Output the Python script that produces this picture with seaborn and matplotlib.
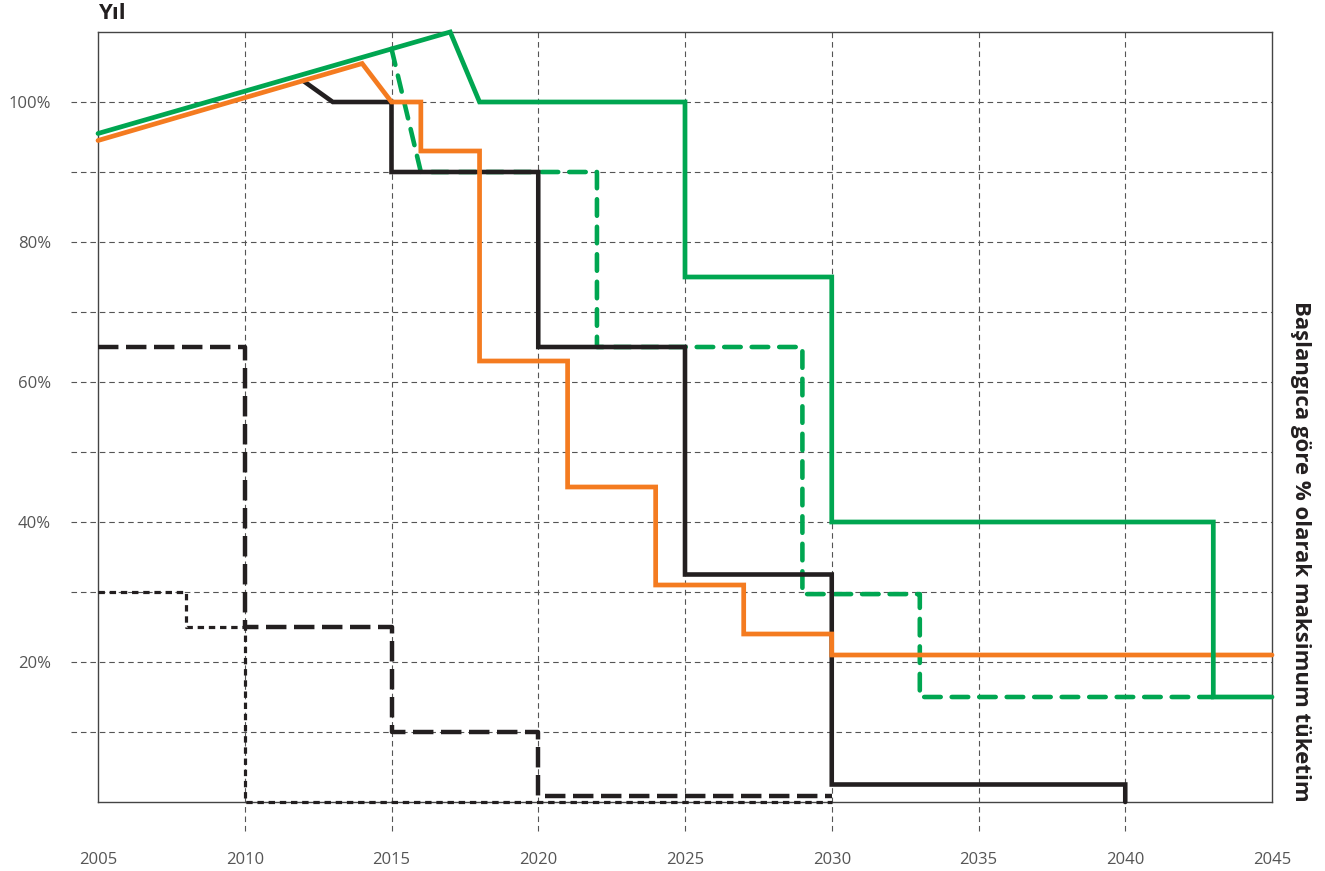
import numpy as np
import pandas as pd
import seaborn as sns
import matplotlib.pyplot as plt

# data (year, % of baseline)
green_x = [2005, 2017, 2018, 2025, 2025, 2030, 2030, 2043, 2043, 2045]
green_y = [95.5, 110, 100, 100, 75, 75, 40, 40, 15, 15]

green_dash_x = [2015, 2016, 2022, 2022, 2029, 2029, 2033, 2033, 2043]
green_dash_y = [107.6, 90, 90, 65, 65, 29.7, 29.7, 15, 15]

orange_x = [2005, 2014, 2015, 2016, 2016, 2018, 2018, 2021, 2021, 2024, 2024,
            2027, 2027, 2030, 2030, 2045]
orange_y = [94.5, 105.5, 100, 100, 93, 93, 63, 63, 45, 45, 31, 31, 24, 24, 21, 21]

black_x = [2012, 2013, 2015, 2015, 2020, 2020, 2025, 2025, 2030, 2030, 2040, 2040]
black_y = [103, 100, 100, 90, 90, 65, 65, 32.5, 32.5, 2.5, 2.5, 0]

black_dash_x = [2005, 2010, 2010, 2015, 2015, 2020, 2020, 2030]
black_dash_y = [65, 65, 25, 25, 10, 10, 0.8, 0.8]

black_dot_x = [2005, 2008, 2008, 2010, 2010, 2030]
black_dot_y = [30, 30, 25, 25, 0, 0]

x_ticks = [2005, 2010, 2015, 2020, 2025, 2030, 2035, 2040, 2045]
y_ticks = [20, 40, 60, 80, 100]
y_grid = [10, 20, 30, 40, 50, 60, 70, 80, 90, 100]
x_grid = [2010, 2015, 2020, 2025, 2030, 2035, 2040]

GREEN = "#00a651"
ORANGE = "#f47b20"
BLACK = "#231f20"
GRID = "#555555"

sns.set_style("white")
plt.rcParams["font.family"] = ["Open Sans", "DejaVu Sans"]

fig = plt.figure(figsize=(13.25, 8.71), dpi=100)
ax = fig.add_axes([98 / 1325, 69 / 871, 1174 / 1325, 770 / 871])

# dashed grid that runs past the spines like in the original
for y in y_grid:
    ax.axhline(y, xmin=-0.023, xmax=1, color=GRID, lw=0.8,
               ls=(0, (5, 3.5)), clip_on=False, zorder=1)
for x in x_grid:
    ax.axvline(x, ymin=-0.038, ymax=1, color=GRID, lw=0.8,
               ls=(0, (5, 3.5)), clip_on=False, zorder=1)

def draw(xs, ys, color, lw, ls, z, cap="butt"):
    df = pd.DataFrame({"x": xs, "y": ys})
    sns.lineplot(data=df, x="x", y="y", sort=False, estimator=None,
                 color=color, linewidth=lw, linestyle=ls, ax=ax)
    line = ax.lines[-1]
    line.set_zorder(z)
    line.set_solid_joinstyle("miter")
    line.set_dash_capstyle(cap)
    line.set_clip_on(False)

draw(black_dot_x, black_dot_y, BLACK, 2.3, (0, (2.0, 1.5)), 3)
draw(black_dash_x, black_dash_y, BLACK, 3.2, (0, (4.6, 1.7)), 4)
draw(green_dash_x, green_dash_y, GREEN, 3.3, (0, (3.6, 2.4)), 5, cap="round")
draw(black_x, black_y, BLACK, 3.3, "-", 6)
draw(orange_x, orange_y, ORANGE, 3.4, "-", 7)
draw(green_x, green_y, GREEN, 3.4, "-", 8)

ax.set_xlim(2005, 2045)
ax.set_ylim(0, 110)
ax.set_xticks(x_ticks)
ax.set_xticklabels([str(v) for v in x_ticks])
ax.set_yticks(y_ticks)
ax.set_yticklabels([f"{v}%" for v in y_ticks])
ax.tick_params(axis="both", length=0, labelsize=12, labelcolor="#555555")
ax.tick_params(axis="x", pad=36)
ax.tick_params(axis="y", pad=34)
ax.set_xlabel(None)
ax.set_ylabel(None)

for side in ["left", "right", "top", "bottom"]:
    ax.spines[side].set_visible(True)
    ax.spines[side].set_color("#444444")
    ax.spines[side].set_linewidth(1.0)

ax.text(0, 1.01, "Yıl", transform=ax.transAxes, ha="left", va="bottom",
        fontsize=16, fontweight="bold", color=BLACK)
ax.text(1.015, 0, "Başlangıca göre % olarak maksimum tüketim",
        transform=ax.transAxes, rotation=270, ha="left", va="bottom",
        fontsize=16, fontweight="bold", color=BLACK)

fig.savefig("out.png", dpi=100)
